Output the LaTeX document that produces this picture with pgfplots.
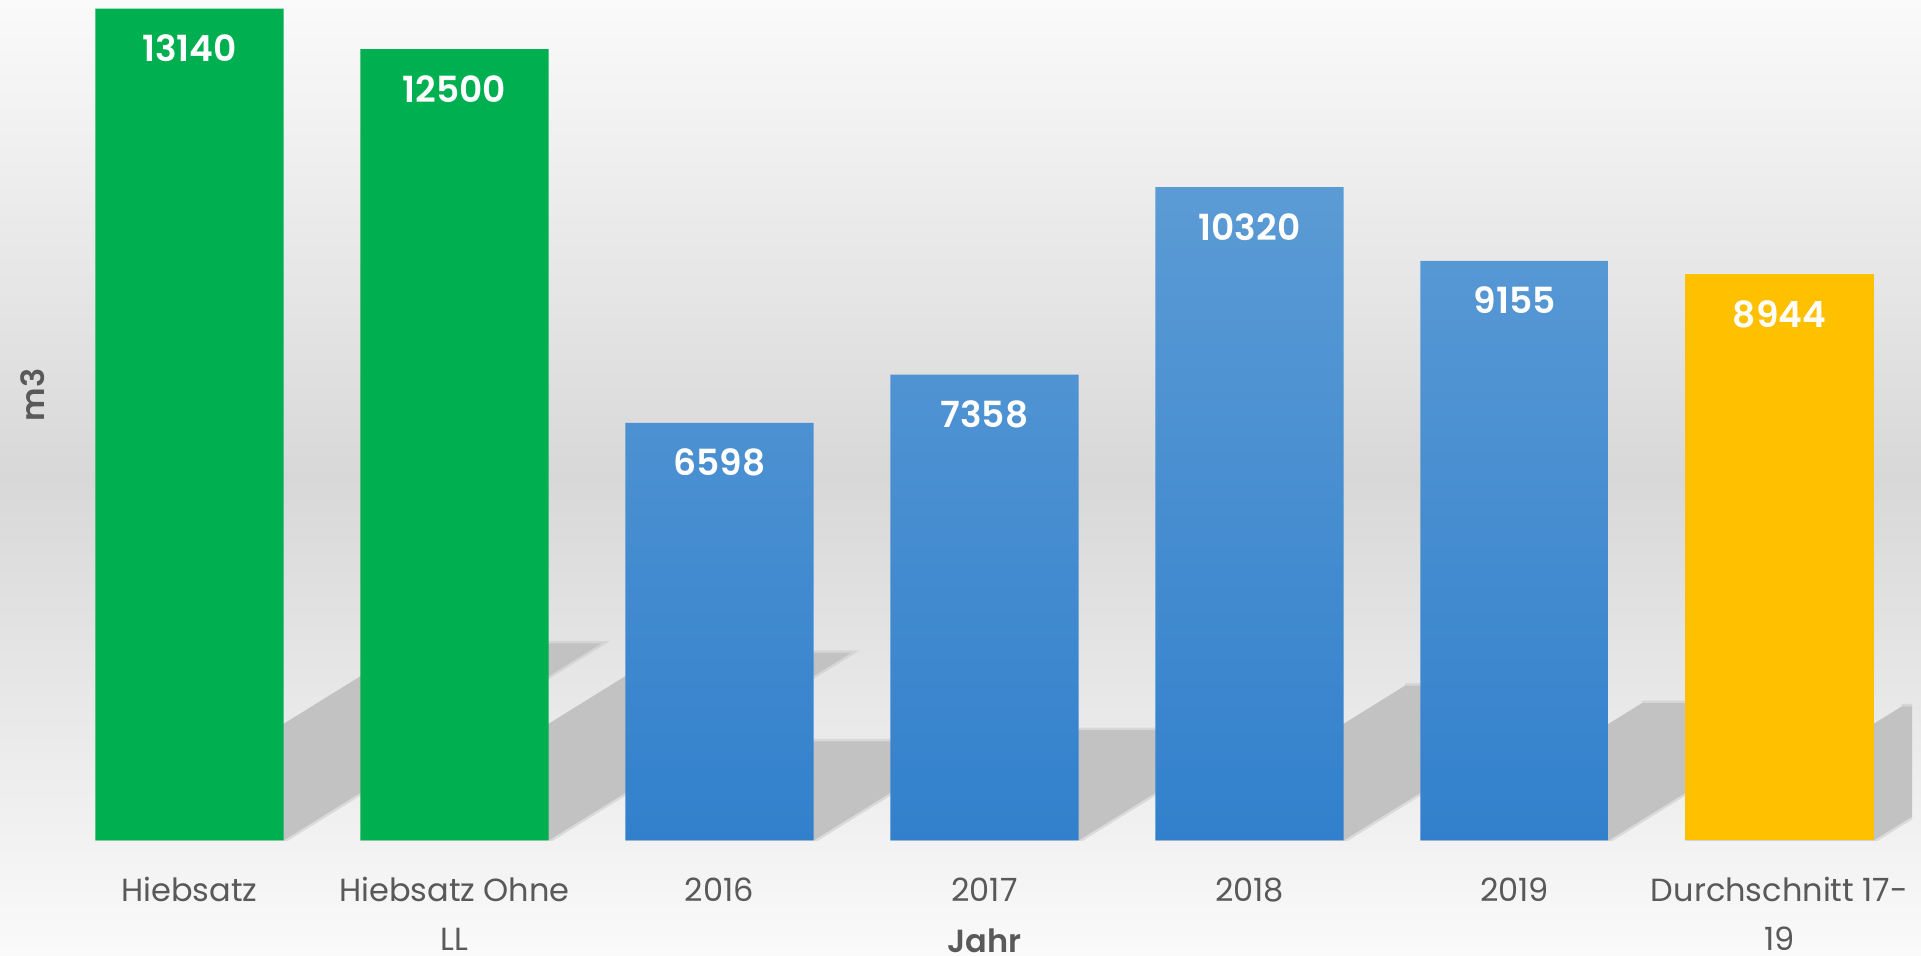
\documentclass[border=0pt]{standalone}
\usepackage{fontspec}
\setmainfont{Poppins}
\newfontfamily\semib{Poppins SemiBold}
\usepackage{pgfplots}
\pgfplotsset{compat=1.18}
\definecolor{grn}{HTML}{00B050}
\definecolor{bluetop}{HTML}{5B9BD5}
\definecolor{bluebot}{HTML}{3280CC}
\definecolor{yel}{HTML}{FFC000}
\definecolor{shd}{HTML}{C2C2C2}
\definecolor{lbl}{HTML}{595959}
\definecolor{bgtop}{HTML}{FAFAFA}
\definecolor{bgmid}{HTML}{D8D8D8}
\begin{document}
\begin{tikzpicture}
\shade[top color=bgtop, bottom color=bgtop, middle color=bgmid] (0,0) rectangle (960.5pt,478pt);
\useasboundingbox (0,0) rectangle (960.5pt,478pt);
\begin{axis}[
  at={(28.5pt,57.75pt)}, anchor=south west,
  scale only axis, width=927.5pt, height=420.25pt,
  xmin=-0.5, xmax=6.5, ymin=0, ymax=13278,
  axis line style={draw=none}, major tick length=0pt,
  ytick=\empty,
  xtick={0,...,6},
  xticklabels={Hiebsatz, {Hiebsatz Ohne\\LL}, 2016, 2017, 2018, 2019, {Durchschnitt 17-\\19}},
  xticklabel style={align=center, font=\fontsize{16}{24.5}\selectfont, text=lbl, anchor=north, yshift=-15pt},
  xlabel={Jahr},
  xlabel style={at={(axis description cs:0.5,0)}, anchor=center, yshift=-50pt, font=\fontsize{16}{20}\selectfont\semib, text=lbl},
  ylabel={m3},
  ylabel style={at={(axis description cs:-0.013,0.53)}, anchor=center, font=\fontsize{16}{20}\selectfont\semib, text=lbl},
  /pgf/number format/1000 sep={}, /pgf/number format/assume math mode=true,
  every node near coord/.append style={anchor=north, yshift=-9.5pt, font=\fontsize{18}{22}\selectfont\semib, text=white},
]
% decorative cast shadows
\addplot[fill=shd, draw=shd, draw opacity=0.45, line width=2.5pt, mark=none, forget plot] coordinates {(-0.355,0) (0.355,0) (1.555,3114) (0.845,3114)};
\addplot[fill=shd, draw=shd, draw opacity=0.45, line width=2.5pt, mark=none, forget plot] coordinates {(0.645,0) (1.355,0) (2.496,2963) (1.786,2963)};
\addplot[fill=shd, draw=shd, draw opacity=0.45, line width=2.5pt, mark=none, forget plot] coordinates {(1.645,0) (2.355,0) (2.957,1564) (2.247,1564)};
\addplot[fill=shd, draw=shd, draw opacity=0.45, line width=2.5pt, mark=none, forget plot] coordinates {(2.645,0) (3.355,0) (4.027,1744) (3.317,1744)};
\addplot[fill=shd, draw=shd, draw opacity=0.45, line width=2.5pt, mark=none, forget plot] coordinates {(3.645,0) (4.355,0) (5.297,2446) (4.587,2446)};
\addplot[fill=shd, draw=shd, draw opacity=0.45, line width=2.5pt, mark=none, forget plot] coordinates {(4.645,0) (5.355,0) (6.191,2170) (5.481,2170)};
\addplot[fill=shd, draw=shd, draw opacity=0.45, line width=2.5pt, mark=none, forget plot] coordinates {(5.645,0) (6.355,0) (7.172,2120) (6.462,2120)};
% bars
\addplot[ybar, bar width=0.71, bar shift=0pt, fill=grn, draw=none, nodes near coords] coordinates {(0,13140) (1,12500)};
\addplot[ybar, bar width=0.71, bar shift=0pt, top color=bluetop, bottom color=bluebot, draw=none, nodes near coords] coordinates {(2,6598) (3,7358) (4,10320) (5,9155)};
\addplot[ybar, bar width=0.71, bar shift=0pt, fill=yel, draw=none, nodes near coords] coordinates {(6,8944)};
\end{axis}
\end{tikzpicture}
\end{document}
